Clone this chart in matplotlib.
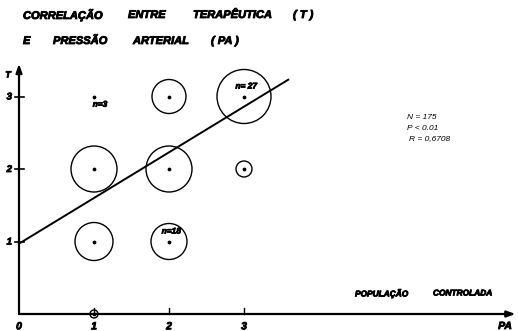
import matplotlib
matplotlib.use("Agg")
import matplotlib.pyplot as plt
import matplotlib.patheffects as pe

# dados: PA (x), T (y), n de cada grupo
pa = [1, 2, 1, 2, 3, 1, 2, 3, 1]
t = [3, 3, 2, 2, 2, 1, 1, 3, 0]
n = [3, 17, 23, 23, 8, 19, 18, 27, 4]
rotulos_n = {(1, 3): "n=3", (3, 3): "n= 27", (2, 1): "n=18"}

# reta de regressão T = a + b*PA
a, b = 0.97, 0.63
pa_reta = [0, 3.59]

W, H = 518, 331
fig = plt.figure(figsize=(W / 100, H / 100), dpi=100)
ax = fig.add_axes([0, 0, 1, 1])
# origem em (19, 314) px, 75 px por unidade em x, 72.5 px em y
ax.set_xlim(-19 / 75, (W - 19) / 75)
ax.set_ylim(-(H - 314) / 72.5, 314 / 72.5)
ax.axis("off")

# letra de normógrafo: negrito itálico, traço engrossado
fonte = dict(family="Liberation Sans", weight="bold", style="italic", color="black",
             path_effects=[pe.withStroke(linewidth=0.6, foreground="black")])

def fx(x):
    return x / W

def fy(y):
    return 1 - y / H

# eixos com setas
seta = dict(arrowstyle="-|>,head_length=0.5,head_width=0.18", lw=1.6, color="black", shrinkA=0, shrinkB=0)
ax.annotate("", xy=(6.62, 0), xytext=(0, 0), arrowprops=seta, annotation_clip=False)
ax.annotate("", xy=(0, 3.45), xytext=(0, 0), arrowprops=seta, annotation_clip=False)

for v in [1, 2, 3]:
    ax.plot([-0.05, 0.07], [v, v], color="black", lw=1.2)
    ax.plot([v, v], [0, 0.08], color="black", lw=1.0)
    ax.text(v, -0.17, str(v), ha="center", va="center", fontsize=7.5, **fonte)
    ax.text(-0.13, v, str(v), ha="center", va="center", fontsize=7, **fonte)
ax.text(0, -0.17, "0", ha="center", va="center", fontsize=7.5, **fonte)

# círculos proporcionais a n (raio ~ 1 px por caso)
for x, y, k in zip(pa, t, n):
    if k > 3:
        d = 2 * k * 0.72
        ax.scatter([x], [y], s=d ** 2, facecolors="none", edgecolors="black", linewidths=1.0, zorder=3)
    ax.scatter([x], [y], s=3, color="black", zorder=4)

for (x, y), txt in rotulos_n.items():
    if y == 3 and x == 1:
        ax.text(x + 0.08, y - 0.12, txt, ha="center", va="center", fontsize=6, **fonte)
    else:
        ax.text(x + 0.03, y + 0.13, txt, ha="center", va="center", fontsize=6, **fonte)

ax.plot(pa_reta, [a + b * p for p in pa_reta], color="black", lw=1.4, zorder=5)

# títulos e legendas
for txt, x in [("CORRELAÇÃO", 23), ("ENTRE", 128), ("TERAPÊUTICA", 193), ("( T )", 293)]:
    fig.text(fx(x), fy(15), txt, ha="left", va="center", fontsize=8, **fonte)
for txt, x in [("E", 23), ("PRESSÃO", 53), ("ARTERIAL", 133), ("( PA )", 211)]:
    fig.text(fx(x), fy(41), txt, ha="left", va="center", fontsize=8, **fonte)

fig.text(fx(8), fy(75), "T", ha="center", va="center", fontsize=6.5, **fonte)
fig.text(fx(505), fy(326), "PA", ha="center", va="center", fontsize=7.5, **fonte)
fig.text(fx(355), fy(294), "POPULAÇÃO", ha="left", va="center", fontsize=6, **fonte)
fig.text(fx(433), fy(294), "CONTROLADA", ha="left", va="center", fontsize=6, **fonte)

for txt, y, x in [("N = 175", 117, 407), ("P < 0.01", 128, 407), ("R = 0,6708", 139, 409)]:
    fig.text(fx(x), fy(y), txt, ha="left", va="center", fontsize=6,
             family="Liberation Sans", style="italic")

fig.savefig("out.png", dpi=100)
